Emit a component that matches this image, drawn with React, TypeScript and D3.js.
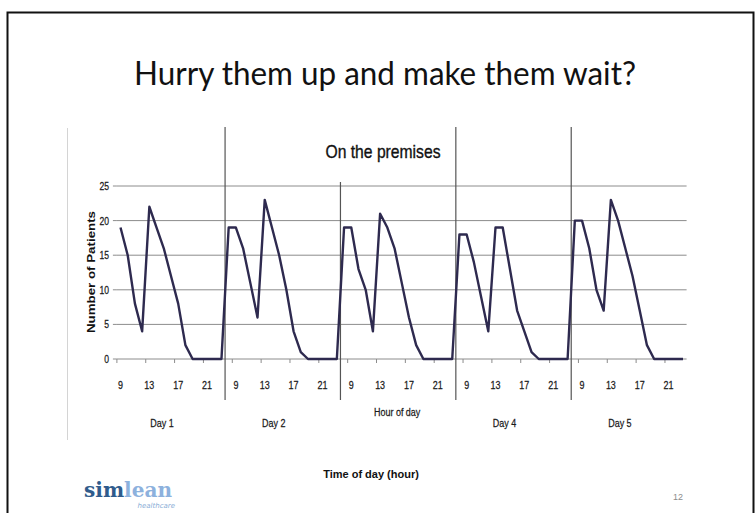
import React from "react";
import * as d3 from "d3";

const dayNames = ["Day 1", "Day 2", "Hour of day", "Day 4", "Day 5"];
const day1Hours = [9, 10, 11, 12, 13, 14, 15, 16, 17, 18, 19, 20, 21, 22, 23];
const dayHours = [8, 9, 10, 11, 12, 13, 14, 15, 16, 17, 18, 19, 20, 21, 22, 23];
const day1 = [19, 15, 8, 4, 22, 19, 16, 12, 8, 2, 0, 0, 0, 0, 0];
const day2 = [19, 19, 16, 11, 6, 23, 19, 15, 10, 4, 1, 0, 0, 0, 0, 0];
const day3 = [19, 19, 13, 10, 4, 21, 19, 16, 11, 6, 2, 0, 0, 0, 0, 0];
const day4 = [18, 18, 14, 9, 4, 19, 19, 13, 7, 4, 1, 0, 0, 0, 0, 0];
const day5 = [20, 20, 16, 10, 7, 23, 20, 16, 12, 7, 2, 0, 0, 0, 0, 0];
const labelledHours = [9, 13, 17, 21];
const yTicks = [0, 5, 10, 15, 20, 25];

const sans = "'Liberation Sans', Arial, sans-serif";

type Pt = { day: number; hour: number; value: number; idx: number };

function Narrow({
  x,
  y,
  children,
  size = 11.5,
  anchor = "middle",
  sx = 0.78,
  weight = "normal",
}: {
  x: number;
  y: number;
  children: React.ReactNode;
  size?: number;
  anchor?: string;
  sx?: number;
  weight?: string;
}) {
  return (
    <text
      transform={`translate(${x},${y}) scale(${sx},1)`}
      textAnchor={anchor}
      fontFamily={sans}
      fontSize={size}
      fontWeight={weight}
      fill="#1a1a1a"
      stroke="#1a1a1a"
      strokeWidth={0.25}
    >
      {children}
    </text>
  );
}

export default function App() {
  const dayValues = [day1, day2, day3, day4, day5];
  const points: Pt[] = [];
  const dayStart: number[] = [];
  let idx = 0;
  dayValues.forEach((vals, d) => {
    const hours = d === 0 ? day1Hours : dayHours;
    dayStart.push(idx);
    vals.forEach((v, i) => {
      points.push({ day: d, hour: hours[i], value: v, idx });
      idx++;
    });
  });
  const n = points.length;
  dayStart.push(n);

  const x = d3.scaleLinear().domain([-0.5, n - 0.5]).range([116.9, 686.6]);
  const y = d3.scaleLinear().domain([0, 25]).range([359, 186]);
  const line = d3
    .line<Pt>()
    .x((p) => x(p.idx))
    .y((p) => y(p.value));

  const left = x(-0.5);
  const right = x(n - 0.5);

  return (
    <svg
      width={755}
      height={513}
      style={{ position: "absolute", left: 0, top: 0, background: "#fff" }}
    >
      <rect x={0} y={0} width={755} height={513} fill="#fff" />
      {/* slide frame */}
      <path d="M7.5,513 L7.5,12.5 L753.5,12.5 L753.5,513" fill="none" stroke="#111" strokeWidth={2} />

      <text
        x={385}
        y={85}
        textAnchor="middle"
        fontFamily="Lato, 'Open Sans', sans-serif"
        fontSize={32}
        fill="#111"
        textLength={502}
        lengthAdjust="spacingAndGlyphs"
      >
        Hurry them up and make them wait?
      </text>

      {/* faint left axis */}
      <line x1={67.5} x2={67.5} y1={128} y2={440} stroke="#d4d4d4" strokeWidth={1} />

      {/* gridlines */}
      {yTicks.map((t) => (
        <g key={t}>
          <line x1={left} x2={right} y1={y(t)} y2={y(t)} stroke="#8c8c8c" strokeWidth={1} />
          <line x1={left - 4} x2={left} y1={y(t)} y2={y(t)} stroke="#8c8c8c" strokeWidth={1} />
          <Narrow x={109} y={y(t) + 4} anchor="end" size={11}>
            {t}
          </Narrow>
        </g>
      ))}

      {/* day separators */}
      {dayStart.slice(1, -1).map((s) => (
        <line
          key={s}
          x1={x(s - 0.5)}
          x2={x(s - 0.5)}
          y1={127}
          y2={400}
          stroke="#555"
          strokeWidth={1.2}
        />
      ))}

      {/* x ticks and labels */}
      {points
        .filter((p) => labelledHours.includes(p.hour))
        .map((p) => (
          <g key={p.idx}>
            <line
              x1={x(p.idx - 0.5)}
              x2={x(p.idx - 0.5)}
              y1={y(0)}
              y2={y(0) + 4}
              stroke="#8c8c8c"
              strokeWidth={1}
            />
            <Narrow x={x(p.idx)} y={389} size={11.5}>
              {p.hour}
            </Narrow>
          </g>
        ))}

      {/* data line */}
      <path
        d={line(points) || ""}
        fill="none"
        stroke="#2e2a4f"
        strokeWidth={2.4}
        strokeLinejoin="round"
      />

      {/* chart title box */}
      <rect x={318} y={124} width={130} height={58} fill="#fff" />
      <text
        x={383}
        y={158}
        textAnchor="middle"
        fontFamily={sans}
        fontSize={19}
        fill="#111"
        stroke="#111"
        strokeWidth={0.35}
        textLength={115}
        lengthAdjust="spacingAndGlyphs"
      >
        On the premises
      </text>

      {/* y axis title */}
      <text
        transform="translate(91,272) rotate(-90)"
        textAnchor="middle"
        fontFamily={sans}
        fontWeight="bold"
        fontSize={10}
        fill="#111"
        textLength={122}
        lengthAdjust="spacingAndGlyphs"
        dy={3.5}
      >
        Number of Patients
      </text>

      {/* day labels */}
      {dayNames.map((name, d) => {
        const cx = (x(dayStart[d] - 0.5) + x(dayStart[d + 1] - 0.5)) / 2;
        const isMid = d === 2;
        return (
          <Narrow key={name} x={isMid ? cx - 1 : cx - 9} y={isMid ? 416 : 427} size={11.5}>
            {name}
          </Narrow>
        );
      })}

      <text
        x={371}
        y={478}
        textAnchor="middle"
        fontFamily={sans}
        fontWeight="bold"
        fontSize={11}
        fill="#111"
      >
        Time of day (hour)
      </text>

      {/* logo */}
      <text
        x={84}
        y={497}
        fontFamily="'DejaVu Serif', serif"
        fontWeight="bold"
        fontSize={20}
        textLength={88}
        lengthAdjust="spacingAndGlyphs"
      >
        <tspan fill="#2f5b8c">sim</tspan>
        <tspan fill="#8db1dd">lean</tspan>
      </text>
      <text
        x={175}
        y={508}
        textAnchor="end"
        fontFamily="'DejaVu Sans', sans-serif"
        fontStyle="italic"
        fontSize={7}
        fill="#8aaed6"
      >
        healthcare
      </text>

      <text
        x={683}
        y={500}
        textAnchor="end"
        fontFamily={sans}
        fontSize={9}
        fill="#8c8c8c"
      >
        12
      </text>
    </svg>
  );
}
